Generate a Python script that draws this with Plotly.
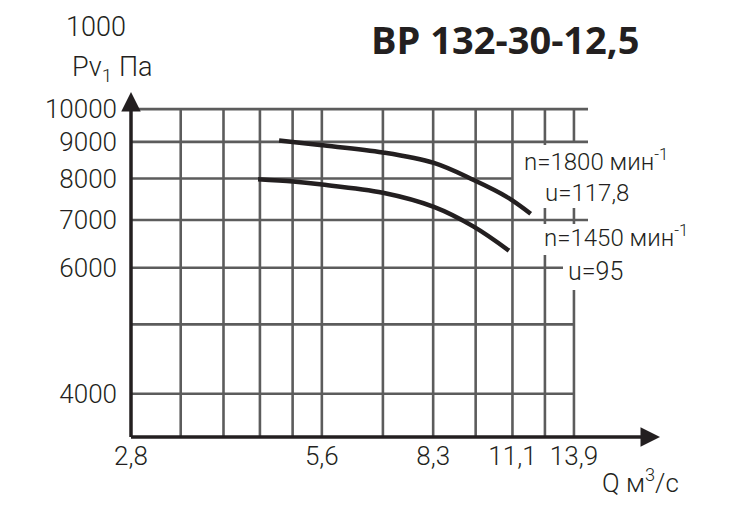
import math
import plotly.graph_objects as go

# ---------------- data ----------------
q_grid = [2.78, 3.33, 3.89, 4.44, 5.0, 5.56, 6.94, 8.33, 9.72, 11.11, 12.5, 13.89]  # m3/s
q_ticks = [2.78, 5.56, 8.33, 11.11, 13.89]
q_ticktext = ["2,8", "5,6", "8,3", "11,1", "13,9"]

p_grid = [4000, 5000, 6000, 7000, 8000, 9000, 10000]
p_ticks = [4000, 6000, 7000, 8000, 9000, 10000]
p_ticktext = ["4000", "6000", "7000", "8000", "9000", "10000"]

q_1800 = [4.76, 5.52, 6.94, 8.35, 9.65, 10.88, 11.87]
p_1800 = [9040, 8910, 8700, 8410, 7960, 7540, 7140]

q_1450 = [4.41, 5.01, 5.52, 6.94, 8.35, 9.65, 10.97]
p_1450 = [7980, 7920, 7850, 7640, 7300, 6850, 6340]

# ---------------- layout geometry ----------------
# the page body has an 8px margin, so the figure is drawn 8px smaller and
# everything below is expressed in window pixels of the reference.
OFF = 8
W, H = 748 - OFF, 514 - OFF
AX_X, AX_Y = 131, 437          # axis origin (window pixels)
TIP_X, TIP_Y = 660, 92         # arrow tips (window pixels)
L_M = AX_X - OFF
T_M = TIP_Y - OFF
PW = TIP_X - AX_X
PH = AX_Y - TIP_Y
R_M = W - L_M - PW
B_M = H - T_M - PH
X_PER_DEC = 634.0
Y_PER_DEC = 715.0
x0_log = math.log10(q_grid[0])
x_range = [x0_log, x0_log + PW / X_PER_DEC]
y_range = [3.5415, 3.5415 + PH / Y_PER_DEC]

INK = "#231f20"
GRID = "#5c5c5c"
NARROW = "Roboto, Liberation Sans, sans-serif"


def px_to_paper(px, py):
    return (px - AX_X) / PW, (AX_Y - py) / PH


def py_to_p(py):
    frac = (AX_Y - py) / PH
    return 10 ** (y_range[0] + frac * (y_range[1] - y_range[0]))


def px_to_q(px):
    frac = (px - AX_X) / PW
    return 10 ** (x_range[0] + frac * (x_range[1] - x_range[0]))


fig = go.Figure()

fig.add_trace(go.Scatter(x=q_1800, y=p_1800, mode="lines",
                         line=dict(color=INK, width=4.5, shape="spline", smoothing=1.0),
                         hoverinfo="skip", showlegend=False))
fig.add_trace(go.Scatter(x=q_1450, y=p_1450, mode="lines",
                         line=dict(color=INK, width=4.5, shape="spline", smoothing=1.0),
                         hoverinfo="skip", showlegend=False))

shapes = []
p_bottom = 10 ** y_range[0]
p_top = p_grid[-1]

# vertical grid lines (gaps where labels sit)
vbreaks = {
    12.5: [(p_bottom, py_to_p(255)), (py_to_p(224), py_to_p(208)), (py_to_p(145), p_top)],
    13.89: [(p_bottom, py_to_p(290)), (py_to_p(224), py_to_p(208)), (py_to_p(143), p_top)],
}
for q in q_grid[1:]:
    for a, b in vbreaks.get(q, [(p_bottom, p_top)]):
        shapes.append(dict(type="line", xref="x", yref="y", x0=q, x1=q, y0=a, y1=b,
                           line=dict(color=GRID, width=2.6), layer="below"))

# horizontal grid lines
hend = {10000: px_to_q(588), 9000: px_to_q(588), 7000: px_to_q(588), 8000: q_grid[9], 6000: px_to_q(563)}
for p in p_grid:
    shapes.append(dict(type="line", xref="x", yref="y", x0=q_grid[0], x1=hend.get(p, q_grid[-1]), y0=p, y1=p,
                       line=dict(color=GRID, width=2.6), layer="below"))

# axis lines
shapes.append(dict(type="line", xref="paper", yref="paper", x0=0, x1=0.98, y0=0, y1=0,
                   line=dict(color=INK, width=3.5)))
shapes.append(dict(type="line", xref="paper", yref="paper", x0=0, x1=0, y0=0, y1=0.97,
                   line=dict(color=INK, width=3.5)))

annotations = []
annotations.append(dict(xref="paper", yref="paper", x=1, y=0, ax=-18, ay=0, text="", showarrow=True,
                        arrowhead=2, arrowsize=1.3, arrowwidth=3, arrowcolor=INK))
annotations.append(dict(xref="paper", yref="paper", x=0, y=1, ax=0, ay=18, text="", showarrow=True,
                        arrowhead=2, arrowsize=1.3, arrowwidth=3, arrowcolor=INK))


def label(text, px, py, size, xanchor="left", family=NARROW, yanchor="middle", weight=None):
    xp, yp = px_to_paper(px, py)
    f = dict(family=family, size=size, color=INK)
    if weight:
        f["weight"] = weight
    annotations.append(dict(xref="paper", yref="paper", x=xp, y=yp, text=text, showarrow=False,
                            xanchor=xanchor, yanchor=yanchor, font=f))


label("1000", 96, 27, 27, xanchor="center", weight=300)
label("Pv<sub>1</sub> Па", 70, 69, 27, weight=300)
label("<b>ВР 132-30-12,5</b>", 505, 39, 38, xanchor="center", family="Open Sans, sans-serif")
label("n=1800 мин<sup>-1</sup>", 522, 160, 24, weight=300)
label("u=117,8", 543, 193, 24, weight=300)
label("n=1450 мин<sup>-1</sup>", 542, 236, 24, weight=300)
label("u=95", 566, 271, 25, weight=300)
label("Q м<sup>3</sup>/с", 600, 481, 26, weight=300)

fig.update_layout(
    width=W, height=H,
    margin=dict(l=L_M, r=R_M, t=T_M, b=B_M, pad=0, autoexpand=False),
    paper_bgcolor="white", plot_bgcolor="white",
    shapes=shapes, annotations=annotations,
    xaxis=dict(type="log", range=x_range, showgrid=False, zeroline=False, showline=False,
               tickmode="array", tickvals=q_ticks, ticktext=q_ticktext, ticks="",
               ticklabelstandoff=1, automargin=False,
               tickfont=dict(family=NARROW, size=26, color=INK, weight=300)),
    yaxis=dict(type="log", range=y_range, showgrid=False, zeroline=False, showline=False,
               tickmode="array", tickvals=p_ticks, ticktext=p_ticktext, ticks="",
               ticklabelstandoff=13, automargin=False,
               tickfont=dict(family=NARROW, size=26, color=INK, weight=300)),
    showlegend=False,
)

fig.write_html("out.html")
